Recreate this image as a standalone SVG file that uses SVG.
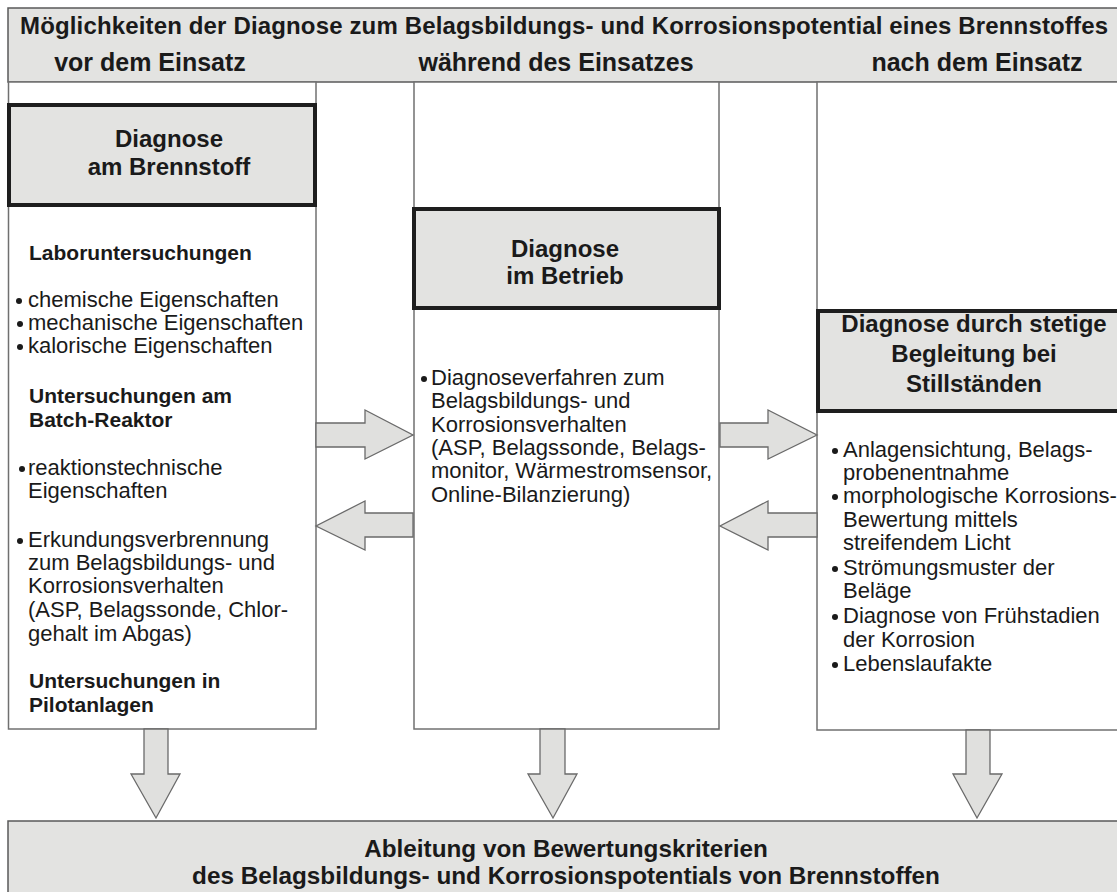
<svg xmlns="http://www.w3.org/2000/svg" width="1117" height="892" viewBox="0 0 1117 892">
<defs>
<style>
text{font-family:"Liberation Sans",Arial,Helvetica,sans-serif;fill:#1a1a1a}
.hd{font-weight:bold;font-size:24px}
.hd2{font-weight:bold;font-size:25px;text-anchor:middle}
.bx{font-weight:bold;font-size:24px;text-anchor:middle}
.res{font-weight:bold;font-size:24.3px;text-anchor:middle}
.sub{font-weight:bold;font-size:21px}
.tx{font-size:22px}
.band{fill:#e3e3e1;stroke:#5a5a5a;stroke-width:1.5}
.col{fill:#ffffff;stroke:#707070;stroke-width:1.5}
.title{fill:#e3e3e1;stroke:#1e1e1e;stroke-width:4}
.arr{fill:#e0e0de;stroke:#6a6a6a;stroke-width:1.3;stroke-linejoin:miter}
.dot{fill:#1a1a1a}
</style>
<circle id="b" r="3" class="dot"/>
</defs>
<rect width="1117" height="892" fill="#ffffff"/>

<g id="header">
<rect class="band" x="8" y="8" width="1120" height="74"/>
<text class="hd" x="20" y="34" textLength="1088" lengthAdjust="spacing">Möglichkeiten der Diagnose zum Belagsbildungs- und Korrosionspotential eines Brennstoffes</text>
<text class="hd2" x="150" y="71">vor dem Einsatz</text>
<text class="hd2" x="556" y="71">während des Einsatzes</text>
<text class="hd2" x="977" y="71">nach dem Einsatz</text>
</g>

<g id="col-left">
<rect class="col" x="8.5" y="82" width="307.5" height="647"/>
<g id="title-left">
<rect class="title" x="9" y="105" width="306" height="100"/>
<text class="bx" x="169" y="147">Diagnose</text>
<text class="bx" x="169" y="175">am Brennstoff</text>
</g>
<text class="sub" x="29" y="260">Laboruntersuchungen</text>
<use href="#b" x="19" y="301"/><text class="tx" x="28" y="307">chemische Eigenschaften</text>
<use href="#b" x="20" y="324"/><text class="tx" x="28" y="330">mechanische Eigenschaften</text>
<use href="#b" x="20" y="347"/><text class="tx" x="28" y="353">kalorische Eigenschaften</text>
<text class="sub" x="29" y="403">Untersuchungen am</text>
<text class="sub" x="29" y="427">Batch-Reaktor</text>
<use href="#b" x="22" y="469"/><text class="tx" x="28" y="475">reaktionstechnische</text>
<text class="tx" x="28" y="498">Eigenschaften</text>
<use href="#b" x="20" y="541"/><text class="tx" x="28" y="547">Erkundungsverbrennung</text>
<text class="tx" x="28" y="570">zum Belagsbildungs- und</text>
<text class="tx" x="28" y="593">Korrosionsverhalten</text>
<text class="tx" x="28" y="617">(ASP, Belagssonde, Chlor-</text>
<text class="tx" x="28" y="641">gehalt im Abgas)</text>
<text class="sub" x="29" y="688">Untersuchungen in</text>
<text class="sub" x="29" y="712">Pilotanlagen</text>
</g>

<g id="col-middle">
<rect class="col" x="414" y="82" width="305" height="647"/>
<g id="title-middle">
<rect class="title" x="414" y="209" width="305" height="99"/>
<text class="bx" x="565" y="257">Diagnose</text>
<text class="bx" x="565" y="284">im Betrieb</text>
</g>
<use href="#b" x="424" y="379"/><text class="tx" x="431" y="385">Diagnoseverfahren zum</text>
<text class="tx" x="431" y="408">Belagsbildungs- und</text>
<text class="tx" x="431" y="432">Korrosionsverhalten</text>
<text class="tx" x="431" y="455">(ASP, Belagssonde, Belags-</text>
<text class="tx" x="431" y="478">monitor, Wärmestromsensor,</text>
<text class="tx" x="431" y="502">Online-Bilanzierung)</text>
</g>

<g id="col-right">
<rect class="col" x="817" y="82" width="320" height="648"/>
<g id="title-right">
<rect class="title" x="818" y="311" width="320" height="100"/>
<text class="bx" x="974" y="332">Diagnose durch stetige</text>
<text class="bx" x="974" y="362">Begleitung bei</text>
<text class="bx" x="974" y="392">Stillständen</text>
</g>
<use href="#b" x="835" y="451"/><text class="tx" x="843" y="457">Anlagensichtung, Belags-</text>
<text class="tx" x="843" y="480">probenentnahme</text>
<use href="#b" x="835" y="497"/><text class="tx" x="843" y="503">morphologische Korrosions-</text>
<text class="tx" x="843" y="527">Bewertung mittels</text>
<text class="tx" x="843" y="550">streifendem Licht</text>
<use href="#b" x="835" y="569"/><text class="tx" x="843" y="575">Strömungsmuster der</text>
<text class="tx" x="843" y="598">Beläge</text>
<use href="#b" x="835" y="617"/><text class="tx" x="843" y="623">Diagnose von Frühstadien</text>
<text class="tx" x="843" y="647">der Korrosion</text>
<use href="#b" x="835" y="665"/><text class="tx" x="843" y="671">Lebenslaufakte</text>
</g>

<g id="result">
<rect class="band" x="8" y="821" width="1120" height="80"/>
<text class="res" x="566" y="857">Ableitung von Bewertungskriterien</text>
<text class="res" x="566" y="884">des Belagsbildungs- und Korrosionspotentials von Brennstoffen</text>
</g>

<g id="connectors">
<polygon class="arr" points="316,423 365,423 365,410 413,435 365,459 365,447 316,447"/>
<polygon class="arr" points="413,513 365,513 365,501 316,526 365,550 365,537 413,537"/>
<polygon class="arr" points="720,423 768,423 768,410 817,435 768,459 768,447 720,447"/>
<polygon class="arr" points="817,513 768,513 768,501 720,526 768,550 768,537 817,537"/>
<polygon class="arr" points="144,729 168,729 168,774 180,774 156,818 131,774 144,774"/>
<polygon class="arr" points="540,729 565,729 565,774 577,774 553,818 528,774 540,774"/>
<polygon class="arr" points="966,730 990,730 990,774 1002,774 977,818 953,774 966,774"/>
</g>
</svg>
